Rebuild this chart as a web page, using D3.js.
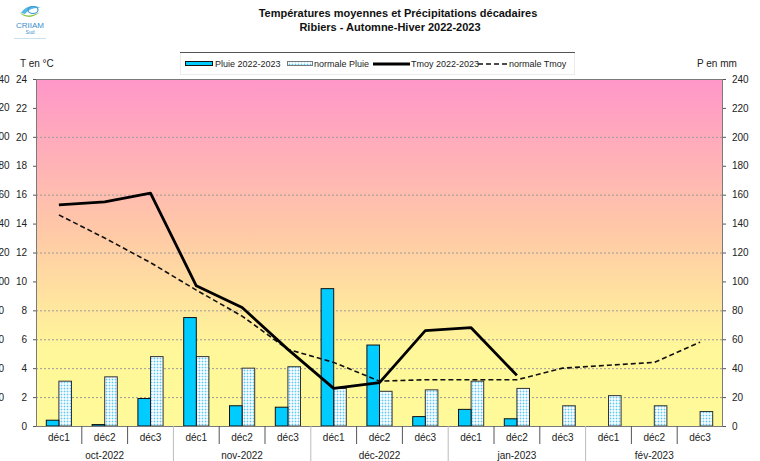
<!DOCTYPE html>
<html>
<head>
<meta charset="utf-8">
<script src="https://cdn.jsdelivr.net/npm/d3@7"></script>
<style>
  body { margin: 0; background: #fff; }
  svg { display: block; font-family: "Liberation Sans", Arial, sans-serif; }
</style>
</head>
<body>
<div class="chart"></div>
<script>
// decades (x categories) and months
var decades = ["déc1", "déc2", "déc3", "déc1", "déc2", "déc3", "déc1", "déc2", "déc3",
               "déc1", "déc2", "déc3", "déc1", "déc2", "déc3"];
var months = ["oct-2022", "nov-2022", "déc-2022", "jan-2023", "fév-2023"];

// precipitation in mm
var pluie = [4, 1, 19, 75, 14, 13, 95, 56, 6.5, 11.5, 5, null, null, null, null];
var normalePluie = [31, 34, 48, 48, 40, 41, 26, 24, 25, 31, 26, 14, 21, 14, 10];

// temperature in °C
var tmoy = [15.3, 15.5, 16.1, 9.7, 8.2, 5.3, 2.6, 3.0, 6.6, 6.8, 3.5, null, null, null, null];
var normaleTmoy = [14.6, 13.0, 11.3, 9.4, 7.6, 5.3, 4.4, 3.1, 3.2, 3.2, 3.2, 4.0, 4.2, 4.4, 5.8];

var tTicks = [0, 2, 4, 6, 8, 10, 12, 14, 16, 18, 20, 22, 24];
var pTicks = [0, 20, 40, 60, 80, 100, 120, 140, 160, 180, 200, 220, 240];
var gridT = [2, 4, 6, 8, 12, 16, 20];

var width = 760, height = 461;
var plot = {left: 36, right: 723, top: 79, bottom: 426};

var svg = d3.select('.chart')
    .append('svg')
    .attr('width', width)
    .attr('height', height);

var idx = d3.range(decades.length);

var x = d3.scaleBand()
    .domain(idx)
    .range([plot.left, plot.right])
    .padding(0);

var yT = d3.scaleLinear().domain([0, 24]).range([plot.bottom, plot.top]);
var yP = d3.scaleLinear().domain([0, 240]).range([plot.bottom, plot.top]);

var defs = svg.append('defs');

var grad = defs.append('linearGradient')
    .attr('id', 'bg')
    .attr('x1', 0).attr('y1', 0).attr('x2', 0).attr('y2', 1);
grad.append('stop').attr('offset', '0%').attr('stop-color', '#ff97c9');
grad.append('stop').attr('offset', '45%').attr('stop-color', '#ffcaa6');
grad.append('stop').attr('offset', '78%').attr('stop-color', '#fff799');
grad.append('stop').attr('offset', '100%').attr('stop-color', '#fffa99');

// dotted fill of the "normale" bars
var pat = defs.append('pattern')
    .attr('id', 'dots')
    .attr('width', 3).attr('height', 3)
    .attr('patternUnits', 'userSpaceOnUse');
pat.append('rect').attr('width', 3).attr('height', 3).attr('fill', '#f4fbff');
pat.append('rect').attr('x', 1).attr('y', 0).attr('width', 1).attr('height', 3).attr('fill', '#c6ecfc');
pat.append('rect').attr('x', 0).attr('y', 1).attr('width', 3).attr('height', 1).attr('fill', '#c6ecfc');
pat.append('rect').attr('x', 1).attr('y', 1).attr('width', 1).attr('height', 1).attr('fill', '#5cc8f5');

// background
svg.append('rect')
    .attr('x', plot.left).attr('y', plot.top)
    .attr('width', plot.right - plot.left)
    .attr('height', plot.bottom - plot.top)
    .attr('fill', 'url(#bg)');

// gridlines
svg.append('g')
    .selectAll('line')
    .data(gridT)
    .enter()
    .append('line')
    .attr('x1', plot.left).attr('x2', plot.right)
    .attr('y1', function (d) { return yT(d) + 0.5; })
    .attr('y2', function (d) { return yT(d) + 0.5; })
    .attr('stroke', '#9a9a9a')
    .attr('stroke-dasharray', '2,2');

// bars
var bw = x.bandwidth() * 0.275;

svg.append('g')
    .selectAll('rect')
    .data(normalePluie)
    .enter()
    .append('rect')
    .attr('x', function (d, i) { return x(i) + x.bandwidth() / 2; })
    .attr('y', function (d) { return yP(d); })
    .attr('width', bw)
    .attr('height', function (d) { return yP(0) - yP(d); })
    .attr('fill', 'url(#dots)')
    .attr('stroke', '#333')
    .attr('stroke-width', 1);

svg.append('g')
    .selectAll('rect')
    .data(pluie.map(function (d, i) { return {v: d, i: i}; }).filter(function (d) { return d.v != null; }))
    .enter()
    .append('rect')
    .attr('x', function (d) { return x(d.i) + x.bandwidth() / 2 - bw; })
    .attr('y', function (d) { return yP(d.v); })
    .attr('width', bw)
    .attr('height', function (d) { return yP(0) - yP(d.v); })
    .attr('fill', '#00ccff')
    .attr('stroke', '#111')
    .attr('stroke-width', 1);

// lines
var line = d3.line()
    .defined(function (d) { return d != null; })
    .x(function (d, i) { return x(i) + x.bandwidth() / 2; })
    .y(function (d) { return yT(d); });

svg.append('path')
    .datum(normaleTmoy)
    .attr('d', line)
    .attr('fill', 'none')
    .attr('stroke', '#111')
    .attr('stroke-width', 1.6)
    .attr('stroke-dasharray', '5,3');

svg.append('path')
    .datum(tmoy)
    .attr('d', line)
    .attr('fill', 'none')
    .attr('stroke', '#000')
    .attr('stroke-width', 2.8)
    .attr('stroke-linejoin', 'round');

// plot frame
svg.append('rect')
    .attr('x', plot.left + 0.5).attr('y', plot.top + 0.5)
    .attr('width', plot.right - plot.left - 1)
    .attr('height', plot.bottom - plot.top)
    .attr('fill', 'none')
    .attr('stroke', '#7a7a7a');

// left axis (T)
var axL = svg.append('g')
    .attr('transform', 'translate(' + plot.left + ',0)')
    .call(d3.axisLeft(yT).tickValues(tTicks).tickSize(3).tickPadding(6));
axL.select('.domain').remove();
axL.selectAll('line').attr('stroke', '#555');
axL.selectAll('text').attr('font-size', 10).attr('fill', '#222')
    .attr('font-family', '"Liberation Sans", Arial, sans-serif');

// right axis (P)
var axR = svg.append('g')
    .attr('transform', 'translate(' + plot.right + ',0)')
    .call(d3.axisRight(yP).tickValues(pTicks).tickSize(3).tickPadding(6));
axR.select('.domain').remove();
axR.selectAll('line').attr('stroke', '#555');
axR.selectAll('text').attr('font-size', 10).attr('fill', '#222')
    .attr('font-family', '"Liberation Sans", Arial, sans-serif');

// column of labels cut by the left edge, as in the source image
svg.append('g')
    .selectAll('text')
    .data(pTicks.filter(function (d) { return d > 0; }))
    .enter()
    .append('text')
    .attr('x', -7)
    .attr('y', function (d) { return yP(d) + 3.5; })
    .attr('font-size', 10)
    .attr('fill', '#222')
    .text(function (d) { return d; });

// x axis: decade labels and separators
var xa = svg.append('g');
xa.selectAll('text.dec')
    .data(decades)
    .enter()
    .append('text')
    .attr('class', 'dec')
    .attr('x', function (d, i) { return x(i) + x.bandwidth() / 2; })
    .attr('y', 441)
    .attr('text-anchor', 'middle')
    .attr('font-size', 10)
    .attr('fill', '#222')
    .text(function (d) { return d; });

xa.selectAll('line.sep')
    .data(d3.range(1, decades.length))
    .enter()
    .append('line')
    .attr('class', 'sep')
    .attr('x1', function (i) { return x(i); })
    .attr('x2', function (i) { return x(i); })
    .attr('y1', plot.bottom)
    .attr('y2', function (i) { return i % 3 === 0 ? height : 444; })
    .attr('stroke', function (i) { return i % 3 === 0 ? '#bbb' : '#555'; })
    .attr('stroke-width', 1);

xa.selectAll('text.month')
    .data(months)
    .enter()
    .append('text')
    .attr('class', 'month')
    .attr('x', function (d, m) { return (x(m * 3) + x(m * 3 + 2) + x.bandwidth()) / 2; })
    .attr('y', 459)
    .attr('text-anchor', 'middle')
    .attr('font-size', 10)
    .attr('fill', '#222')
    .text(function (d) { return d; });

// axis titles
svg.append('text').attr('x', 20).attr('y', 67).attr('font-size', 10).attr('fill', '#222').text('T en °C');
svg.append('text').attr('x', 697).attr('y', 67).attr('font-size', 10).attr('fill', '#222').text('P en mm');

// title
svg.append('text').attr('x', 398).attr('y', 17).attr('text-anchor', 'middle')
    .attr('font-size', 11).attr('font-weight', 'bold').attr('fill', '#111')
    .text('Températures moyennes et Précipitations décadaires');
svg.append('text').attr('x', 390).attr('y', 31).attr('text-anchor', 'middle')
    .attr('font-size', 11).attr('font-weight', 'bold').attr('fill', '#111')
    .text('Ribiers - Automne-Hiver 2022-2023');

// legend
var lg = svg.append('g');
lg.append('rect')
    .attr('x', 180.5).attr('y', 52.5).attr('width', 394).attr('height', 22)
    .attr('fill', '#fff').attr('stroke', '#ececec');
lg.append('line')
    .attr('x1', 180).attr('x2', 575).attr('y1', 52.5).attr('y2', 52.5)
    .attr('stroke', '#555');
lg.append('rect')
    .attr('x', 185.5).attr('y', 61.5).attr('width', 27).attr('height', 4)
    .attr('fill', '#00ccff').attr('stroke', '#111');
lg.append('text').attr('x', 215).attr('y', 67).attr('font-size', 9).attr('fill', '#222')
    .text('Pluie 2022-2023');
lg.append('rect')
    .attr('x', 287.5).attr('y', 61.5).attr('width', 25).attr('height', 4)
    .attr('fill', 'url(#dots)').attr('stroke', '#777');
lg.append('text').attr('x', 314).attr('y', 67).attr('font-size', 9).attr('fill', '#222')
    .text('normale Pluie');
lg.append('line')
    .attr('x1', 373).attr('x2', 410).attr('y1', 64).attr('y2', 64)
    .attr('stroke', '#000').attr('stroke-width', 3);
lg.append('text').attr('x', 411).attr('y', 67).attr('font-size', 9).attr('fill', '#222')
    .text('Tmoy 2022-2023');
lg.append('line')
    .attr('x1', 478).attr('x2', 508).attr('y1', 64).attr('y2', 64)
    .attr('stroke', '#111').attr('stroke-width', 1.5).attr('stroke-dasharray', '5,3');
lg.append('text').attr('x', 509).attr('y', 67).attr('font-size', 9).attr('fill', '#222')
    .text('normale Tmoy');

// logo
var logo = svg.append('g');
logo.append('path')
    .attr('d', 'M21,13 C25,6 34,4 41,8 C35,7 29,9 25,14 Z')
    .attr('fill', '#5bb6e3');
logo.append('path')
    .attr('d', 'M19,12 C24,16 32,17 40,12 C34,18 25,19 19,12 Z')
    .attr('fill', '#8cc63f');
logo.append('ellipse')
    .attr('cx', 33).attr('cy', 10).attr('rx', 5).attr('ry', 3.5)
    .attr('fill', 'none').attr('stroke', '#3a9bd5').attr('stroke-width', 1.2);
logo.append('text').attr('x', 30).attr('y', 28).attr('text-anchor', 'middle')
    .attr('font-size', 8).attr('fill', '#3a8fc8').text('CRIIAM');
logo.append('text').attr('x', 30).attr('y', 34).attr('text-anchor', 'middle')
    .attr('font-size', 5).attr('fill', '#3a8fc8').text('Sud');
logo.append('line')
    .attr('x1', 14).attr('x2', 46).attr('y1', 38.5).attr('y2', 38.5)
    .attr('stroke', '#b9d9ee').attr('stroke-width', 0.8);
</script>
</body>
</html>
